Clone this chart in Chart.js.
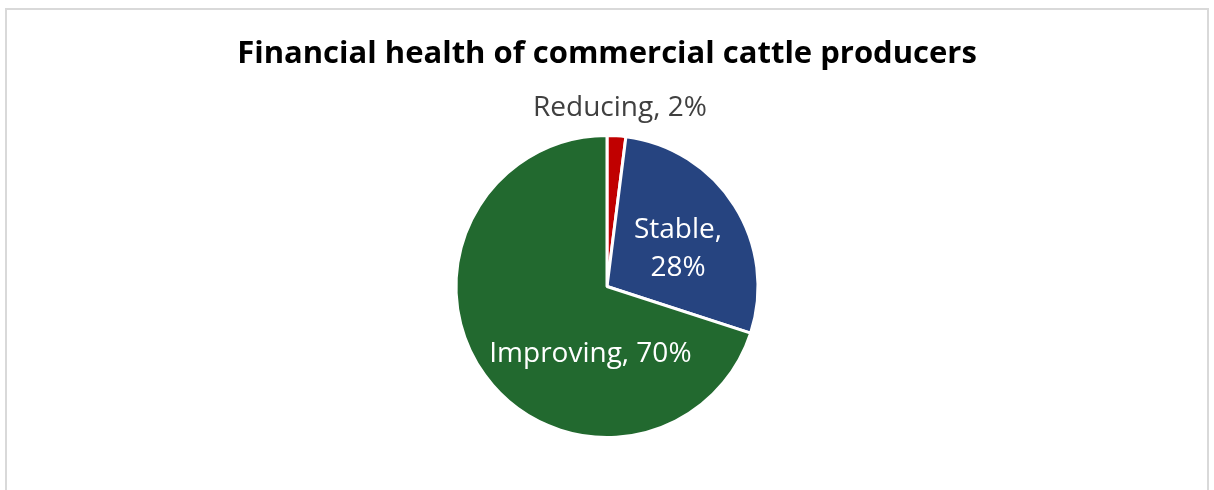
<!DOCTYPE html>
<html>
<head>
<meta charset="utf-8">
<script src="https://cdn.jsdelivr.net/npm/chart.js@4"></script>
<style>
  html, body { margin: 0; padding: 0; background: #fff; }
  #frame {
    position: absolute; left: 5px; top: 8px; width: 1204px; height: 500px;
    border: 2px solid #d9d9d9; box-sizing: border-box;
  }
  #pie { position: absolute; left: 0; top: 0; }
</style>
</head>
<body>
<div id="frame"></div>
<canvas id="pie" width="1214" height="490"></canvas>
<script>
// 재무 상태 비율 (%)
const categories = ['Reducing', 'Stable', 'Improving'];
const shares = [2, 28, 70];
const sliceColors = ['#C00000', '#264480', '#22692F'];

// 라벨 위치 (반지름 단위, 파이 중심 기준)
const labelSpots = [
    { dx: 0.086, dy: -1.18, color: '#404040', lines: 1 },
    { dx: 0.47, dy: -0.25, color: '#ffffff', lines: 2 },
    { dx: -0.11, dy: 0.45, color: '#ffffff', lines: 1 }
];

const FONT = '"Open Sans", Lato, sans-serif';

// 조각마다 "이름, 값%" 라벨 그리기
const sliceLabels = {
    id: 'sliceLabels',
    afterDatasetsDraw(chart) {
        const ctx = chart.ctx;
        const meta = chart.getDatasetMeta(0);
        ctx.save();
        ctx.font = '28px ' + FONT;
        ctx.textAlign = 'center';
        ctx.textBaseline = 'middle';
        meta.data.forEach((arc, i) => {
            const spot = labelSpots[i];
            const r = arc.outerRadius;
            const x = arc.x + spot.dx * r;
            const y = arc.y + spot.dy * r;
            ctx.fillStyle = spot.color;
            if (spot.lines === 2) {
                ctx.fillText(categories[i] + ',', x, y - 19);
                ctx.fillText(shares[i] + '%', x, y + 19);
            } else {
                ctx.fillText(categories[i] + ', ' + shares[i] + '%', x, y);
            }
        });
        ctx.restore();
    }
};

new Chart(document.getElementById('pie'), {
    type: 'pie',
    data: {
        labels: categories,
        datasets: [{
            data: shares,
            backgroundColor: sliceColors,
            borderColor: '#ffffff',
            borderWidth: 3,
            hoverOffset: 0
        }]
    },
    options: {
        responsive: false,
        animation: false,
        devicePixelRatio: 1,
        layout: { padding: { top: 0, bottom: 51 } },
        plugins: {
            legend: { display: false },
            tooltip: { enabled: false },
            title: {
                display: true,
                text: 'Financial health of commercial cattle producers',
                color: '#000000',
                font: { family: FONT, size: 31, weight: 'bold', lineHeight: 1.2 },
                padding: { top: 36, bottom: 60.8 }
            }
        }
    },
    plugins: [sliceLabels]
});
</script>
</body>
</html>
